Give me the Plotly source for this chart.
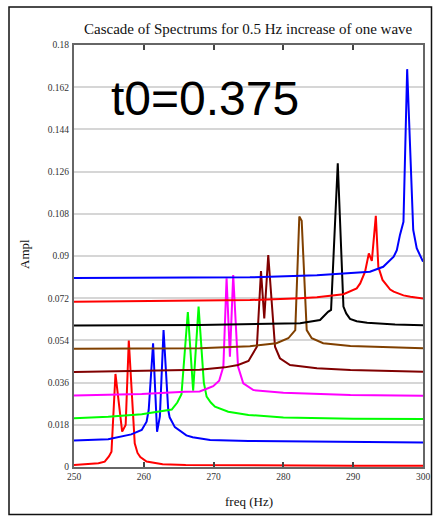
import plotly.graph_objects as go

# ---- data (freq in Hz, amplitude) ----
f1 = [250, 252, 253.5, 254.4, 255.0, 255.37, 255.94, 256.9, 257.4, 257.85, 258.7, 259.1, 259.5, 260.4, 262.7, 266, 270, 280, 290, 300]
a1 = [0.0008, 0.0011, 0.0016, 0.0023, 0.0045, 0.0065, 0.0397, 0.0151, 0.0179, 0.0539, 0.0101, 0.0060, 0.0042, 0.0023, 0.0012, 0.0009, 0.0008, 0.0006, 0.0005, 0.0005]

f2 = [250, 254.9, 258.2, 259.7, 260.4, 260.7, 261.33, 261.9, 262.3, 262.83, 263.5, 263.7, 264.45, 266.1, 267, 269.5, 275, 285, 300]
a2 = [0.0113, 0.0118, 0.0139, 0.0158, 0.0193, 0.0243, 0.0528, 0.0150, 0.0215, 0.0584, 0.0243, 0.0212, 0.0170, 0.0135, 0.0127, 0.0115, 0.0111, 0.0107, 0.0104]

f3 = [250, 254.9, 259.7, 262.5, 264.0, 264.8, 265.4, 266.31, 267.07, 267.85, 268.6, 269.0, 269.6, 270.2, 272.1, 275, 280, 290, 300]
a3 = [0.0208, 0.0214, 0.0225, 0.0239, 0.0245, 0.0275, 0.0310, 0.0661, 0.0326, 0.0684, 0.0360, 0.0300, 0.0275, 0.0257, 0.0236, 0.0222, 0.0211, 0.0206, 0.0205]

f4 = [250, 259.7, 265.9, 268.0, 269.2, 269.94, 270.8, 271.4, 271.86, 272.34, 272.81, 273.5, 274.25, 275.7, 280, 289.6, 300]
a4 = [0.0305, 0.0311, 0.0321, 0.0322, 0.0336, 0.0345, 0.0368, 0.0428, 0.0805, 0.0470, 0.0819, 0.0428, 0.0357, 0.0328, 0.0317, 0.0307, 0.0304]

f5 = [250, 259.7, 268.0, 271.6, 273.5, 275.0, 276.2, 276.79, 277.26, 277.83, 278.8, 279.5, 280.95, 284.8, 289.6, 300]
a5 = [0.0405, 0.0411, 0.0415, 0.0425, 0.0435, 0.0452, 0.0513, 0.0836, 0.0634, 0.0904, 0.0513, 0.0464, 0.0435, 0.0421, 0.0414, 0.0406]

f6 = [250, 268, 275.2, 279.0, 280.7, 281.7, 282.28, 282.62, 283.34, 284.06, 285.7, 289.6, 300]
a6 = [0.0504, 0.0506, 0.0515, 0.0528, 0.0549, 0.0584, 0.1068, 0.1050, 0.0584, 0.0549, 0.0528, 0.0516, 0.0507]

f7 = [250, 268, 282.4, 285.25, 286.4, 286.83, 287.79, 288.6, 289.0, 289.55, 290.5, 292.0, 296, 300]
a7 = [0.0604, 0.0606, 0.0613, 0.0627, 0.0662, 0.0670, 0.1295, 0.0684, 0.0655, 0.0632, 0.0622, 0.0615, 0.0608, 0.0605]

f8 = [250, 275.2, 282.4, 284.8, 288.6, 290.5, 291.0, 291.46, 291.7, 292.24, 292.67, 293.24, 293.6, 294.2, 295.3, 295.8, 297.2, 298.2, 300]
a8 = [0.0705, 0.0712, 0.0720, 0.0724, 0.0737, 0.0762, 0.0783, 0.0812, 0.0833, 0.0911, 0.0879, 0.1071, 0.0854, 0.0798, 0.0757, 0.0748, 0.0732, 0.0726, 0.0719]

f9 = [250, 268, 275.2, 284.8, 292.4, 294.3, 294.8, 295.8, 296.25, 296.7, 297.2, 297.73, 298.6, 299.1, 300]
a9 = [0.0806, 0.0807, 0.0809, 0.0818, 0.0833, 0.0854, 0.0869, 0.0897, 0.0925, 0.0990, 0.1046, 0.1697, 0.1011, 0.0933, 0.0876]

series = [
    (f1, a1, "#ff0000"),
    (f2, a2, "#0000ff"),
    (f3, a3, "#00ff00"),
    (f4, a4, "#ff00ff"),
    (f5, a5, "#800000"),
    (f6, a6, "#804000"),
    (f7, a7, "#000000"),
    (f8, a8, "#ff0000"),
    (f9, a9, "#0000ff"),
]

y_ticks = [0, 0.018, 0.036, 0.054, 0.072, 0.09, 0.108, 0.126, 0.144, 0.162, 0.18]
y_labels = ["0", "0.018", "0.036", "0.054", "0.072", "0.09", "0.108", "0.126", "0.144", "0.162", "0.18"]
x_ticks = [250, 260, 270, 280, 290, 300]
x_labels = ["250", "260", "270", "280", "290", "300"]

fig = go.Figure()
for fx, ay, col in series:
    fig.add_trace(go.Scatter(x=fx, y=ay, mode="lines", line=dict(color=col, width=2),
                             showlegend=False, hoverinfo="skip"))

serif = "Liberation Serif, Times New Roman, serif"
W, H = 433, 516
L, R, T, B = 74, 10, 45, 49
pw, ph = W - L - R, H - T - B

def px(x):
    return (x - L) / pw

def py(y):
    return (H - B - y) / ph

fig.update_layout(
    template="none",
    autosize=False,
    width=W, height=H,
    margin=dict(l=L, r=R, t=T, b=B, pad=0),
    paper_bgcolor="white", plot_bgcolor="white",
    xaxis=dict(range=[250, 300], tickvals=x_ticks, ticktext=x_labels, automargin=False,
               showgrid=False, zeroline=False,
               showline=True, linecolor="#666666", linewidth=2, mirror="ticks",
               ticks="inside", ticklen=5, tickcolor="#444444", tickwidth=1.5,
               tickfont=dict(family=serif, size=9.5, color="#333333")),
    yaxis=dict(range=[0, 0.18], tickvals=y_ticks, ticktext=y_labels, automargin=False,
               showgrid=True, gridcolor="#d6d6d6", gridwidth=1.5, zeroline=False,
               showline=True, linecolor="#666666", linewidth=2, mirror=True,
               ticks="", ticklabelstandoff=1,
               tickfont=dict(family=serif, size=9.5, color="#333333")),
    annotations=[
        dict(text="Cascade of Spectrums for 0.5 Hz increase of one wave", xref="paper", yref="paper",
             x=px(248.5), y=py(28.5), xanchor="center", yanchor="middle", showarrow=False,
             font=dict(family=serif, size=15, color="#111111")),
        dict(text="t0=0.375", xref="paper", yref="paper",
             x=px(109), y=py(98), xanchor="left", yanchor="middle", showarrow=False,
             font=dict(family="Liberation Sans, Arial, sans-serif", size=48, color="#000000")),
        dict(text="Ampl", xref="paper", yref="paper", textangle=-90,
             x=px(25), y=py(254), xanchor="center", yanchor="middle", showarrow=False,
             font=dict(family=serif, size=13, color="#111111")),
        dict(text="freq (Hz)", xref="paper", yref="paper",
             x=px(248.5), y=py(502), xanchor="center", yanchor="middle", showarrow=False,
             font=dict(family=serif, size=13, color="#111111")),
    ],
    shapes=[
        dict(type="rect", xref="paper", yref="paper",
             x0=px(9), x1=px(431.5), y0=py(514.5), y1=py(7),
             line=dict(color="#111111", width=1.5), fillcolor="rgba(0,0,0,0)", layer="below"),
    ],
)

fig.write_html("out.html")
